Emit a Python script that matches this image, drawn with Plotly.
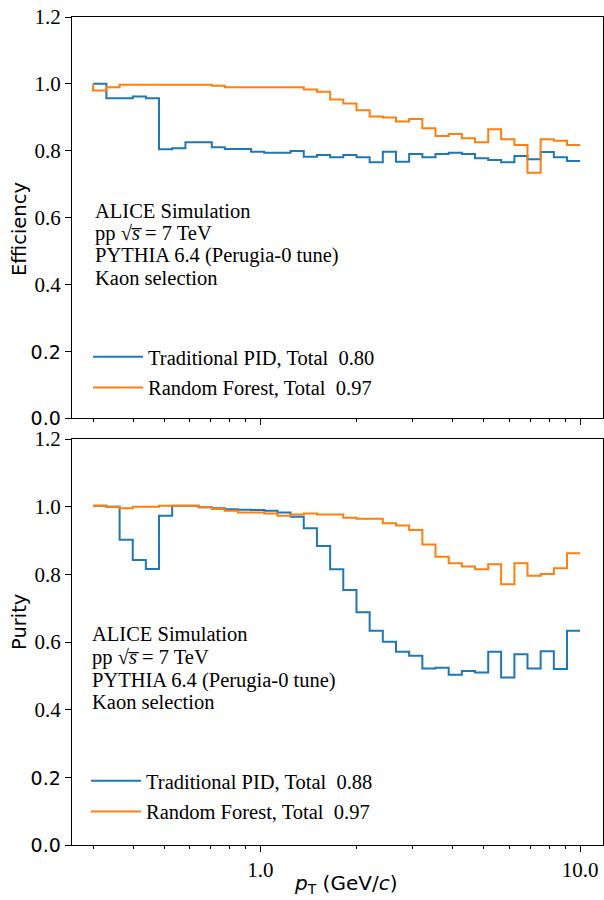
import plotly.graph_objects as go

# ---------------- data ----------------
pt_edges = [0.300, 0.330, 0.363, 0.399, 0.4385, 0.482, 0.530, 0.583, 0.641, 0.705,
            0.774, 0.851, 0.9355, 1.0285, 1.131, 1.243, 1.367, 1.503, 1.653, 1.817,
            1.998, 2.197, 2.4155, 2.656, 2.920, 3.211, 3.530, 3.882, 4.268, 4.693,
            5.160, 5.6625, 6.231, 6.846, 7.527, 8.277, 9.100, 10.0]

eff_trad_start = 1.0
eff_trad = [1.00, 0.957, 0.957, 0.962, 0.957, 0.804, 0.807, 0.825, 0.825, 0.810,
            0.805, 0.805, 0.797, 0.794, 0.794, 0.799, 0.782, 0.787, 0.780, 0.787,
            0.780, 0.765, 0.797, 0.767, 0.790, 0.780, 0.790, 0.794, 0.790, 0.777,
            0.772, 0.765, 0.784, 0.774, 0.796, 0.780, 0.769]

eff_rf_start = 1.0
eff_rf = [0.980, 0.990, 0.997, 0.997, 0.997, 0.997, 0.997, 0.997, 0.997, 0.994,
          0.990, 0.990, 0.990, 0.990, 0.990, 0.990, 0.983, 0.976, 0.953, 0.941,
          0.921, 0.902, 0.899, 0.887, 0.895, 0.867, 0.844, 0.850, 0.837, 0.825,
          0.864, 0.834, 0.817, 0.734, 0.834, 0.830, 0.817]

pur_trad_start = 1.003
pur_trad = [1.003, 1.000, 0.902, 0.842, 0.816, 0.973, 1.003, 1.003, 0.998, 0.995,
            0.992, 0.991, 0.990, 0.988, 0.983, 0.970, 0.936, 0.884, 0.815, 0.754,
            0.688, 0.633, 0.601, 0.571, 0.559, 0.522, 0.524, 0.503, 0.514, 0.510,
            0.571, 0.495, 0.564, 0.522, 0.573, 0.520, 0.633]

pur_rf_start = 1.003
pur_rf = [1.003, 1.000, 0.995, 1.000, 1.000, 1.003, 1.003, 1.003, 0.998, 0.993,
          0.988, 0.983, 0.983, 0.980, 0.973, 0.977, 0.980, 0.977, 0.977, 0.967,
          0.964, 0.964, 0.951, 0.944, 0.931, 0.888, 0.852, 0.833, 0.823, 0.815,
          0.830, 0.771, 0.833, 0.796, 0.801, 0.818, 0.862]

eff_labels = ["Traditional PID, Total\u00a0\u00a00.80", "Random Forest, Total\u00a0\u00a00.97"]
pur_labels = ["Traditional PID, Total\u00a0\u00a00.88", "Random Forest, Total\u00a0\u00a00.97"]

info_lines = ["ALICE Simulation",
              "pp \u221a<i>s\u0305</i> = 7 TeV",
              "PYTHIA 6.4 (Perugia-0 tune)",
              "Kaon selection"]

y_ticks = [0.0, 0.2, 0.4, 0.6, 0.8, 1.0, 1.2]
x_major = [1.0, 10.0]
x_major_text = ["1.0", "10.0"]
x_minor = [0.3, 0.4, 0.5, 0.6, 0.7, 0.8, 0.9, 2, 3, 4, 5, 6, 7, 8, 9]

BLUE = "#1f77b4"
ORANGE = "#ff7f0e"
SERIF = "Liberation Serif"
SANS = "DejaVu Sans"
TXT = 20.5

# ---------------- figure ----------------
fig = go.Figure()

def add_step(x, start, vals, color, name, xa, ya, legend, group):
    fig.add_trace(go.Scatter(
        x=x, y=[start] + vals, mode="lines", line_shape="vh",
        line=dict(color=color, width=2), name=name,
        xaxis=xa, yaxis=ya, legend=legend, legendgroup=group, hoverinfo="skip"))

add_step(pt_edges, eff_trad_start, eff_trad, BLUE, eff_labels[0], "x", "y", "legend", "a1")
add_step(pt_edges, eff_rf_start, eff_rf, ORANGE, eff_labels[1], "x", "y", "legend", "a2")
add_step(pt_edges, pur_trad_start, pur_trad, BLUE, pur_labels[0], "x2", "y2", "legend2", "b1")
add_step(pt_edges, pur_rf_start, pur_rf, ORANGE, pur_labels[1], "x2", "y2", "legend2", "b2")

# pixel geometry helpers (plot area: x 72..603, y 17..845)
L, R, T, B = 72, 1, 17, 55
W, H = 604, 900
PW, PH = W - L - R, H - T - B

def py(pix):
    return (H - B - pix) / PH

def px(pix):
    return (pix - L) / PW

def ytext(v):
    s = f"{v:.1f}"
    if v < 0.3:
        return f'<span style="font-family:{SANS};font-size:19px">{s}</span>'
    return s

xcommon = dict(type="log", range=[-0.589, 1.0716], showline=True, linecolor="black",
               linewidth=1, mirror=True, ticks="outside", ticklen=6, tickwidth=1,
               tickcolor="black", tickmode="array", tickvals=x_major, ticktext=x_major_text,
               showgrid=False, zeroline=False,
               tickfont=dict(family=SERIF, size=21, color="black"),
               minor=dict(ticks="outside", ticklen=3, tickwidth=1, tickcolor="black",
                          tickmode="array", tickvals=x_minor, showgrid=False))
ycommon = dict(range=[0, 1.2], showline=True, linecolor="black", linewidth=1, mirror=True,
               ticks="outside", ticklen=6, tickwidth=1, tickcolor="black",
               tickmode="array", tickvals=y_ticks, ticktext=[ytext(v) for v in y_ticks],
               showgrid=False, zeroline=False,
               tickfont=dict(family=SERIF, size=21, color="black"))

fig.update_layout(
    width=W, height=H, autosize=False,
    margin=dict(l=L, r=R, t=T, b=B),
    paper_bgcolor="white", plot_bgcolor="white",
    showlegend=True,
    xaxis=dict(xcommon, anchor="y", domain=[0, 1], showticklabels=False, matches="x2"),
    yaxis=dict(ycommon, anchor="x", domain=[py(418), 1]),
    xaxis2=dict(xcommon, anchor="y2", domain=[0, 1]),
    yaxis2=dict(ycommon, anchor="x2", domain=[0, py(439)]),
    legend=dict(x=px(88), y=py(337), xanchor="left", yanchor="top",
                bgcolor="rgba(0,0,0,0)", font=dict(family=SERIF, size=TXT, color="black"),
                tracegroupgap=1, itemwidth=50),
    legend2=dict(x=px(86), y=py(761), xanchor="left", yanchor="top",
                 bgcolor="rgba(0,0,0,0)", font=dict(family=SERIF, size=TXT, color="black"),
                 tracegroupgap=1, itemwidth=50),
)

ann = []
for i, yy in enumerate([211, 233, 256, 278]):
    ann.append(dict(text=info_lines[i], x=px(93), y=py(yy), xref="paper", yref="paper",
                    xanchor="left", yanchor="middle", showarrow=False,
                    font=dict(family=SERIF, size=TXT, color="black")))
for i, yy in enumerate([634, 657, 680, 702]):
    ann.append(dict(text=info_lines[i], x=px(90), y=py(yy), xref="paper", yref="paper",
                    xanchor="left", yanchor="middle", showarrow=False,
                    font=dict(family=SERIF, size=TXT, color="black")))
ann.append(dict(text="Efficiency", x=px(19), y=py(229), xref="paper", yref="paper",
                xanchor="center", yanchor="middle", textangle=-90, showarrow=False,
                font=dict(family=SANS, size=19.5, color="black")))
ann.append(dict(text="Purity", x=px(19), y=py(622), xref="paper", yref="paper",
                xanchor="center", yanchor="middle", textangle=-90, showarrow=False,
                font=dict(family=SANS, size=19.5, color="black")))
ann.append(dict(text="<i>p</i><sub>T</sub> (GeV/<i>c</i>)", x=px(345), y=py(884),
                xref="paper", yref="paper", xanchor="center", yanchor="middle",
                showarrow=False, font=dict(family=SANS, size=20, color="black")))
fig.update_layout(annotations=ann)

fig.write_html("out.html")
